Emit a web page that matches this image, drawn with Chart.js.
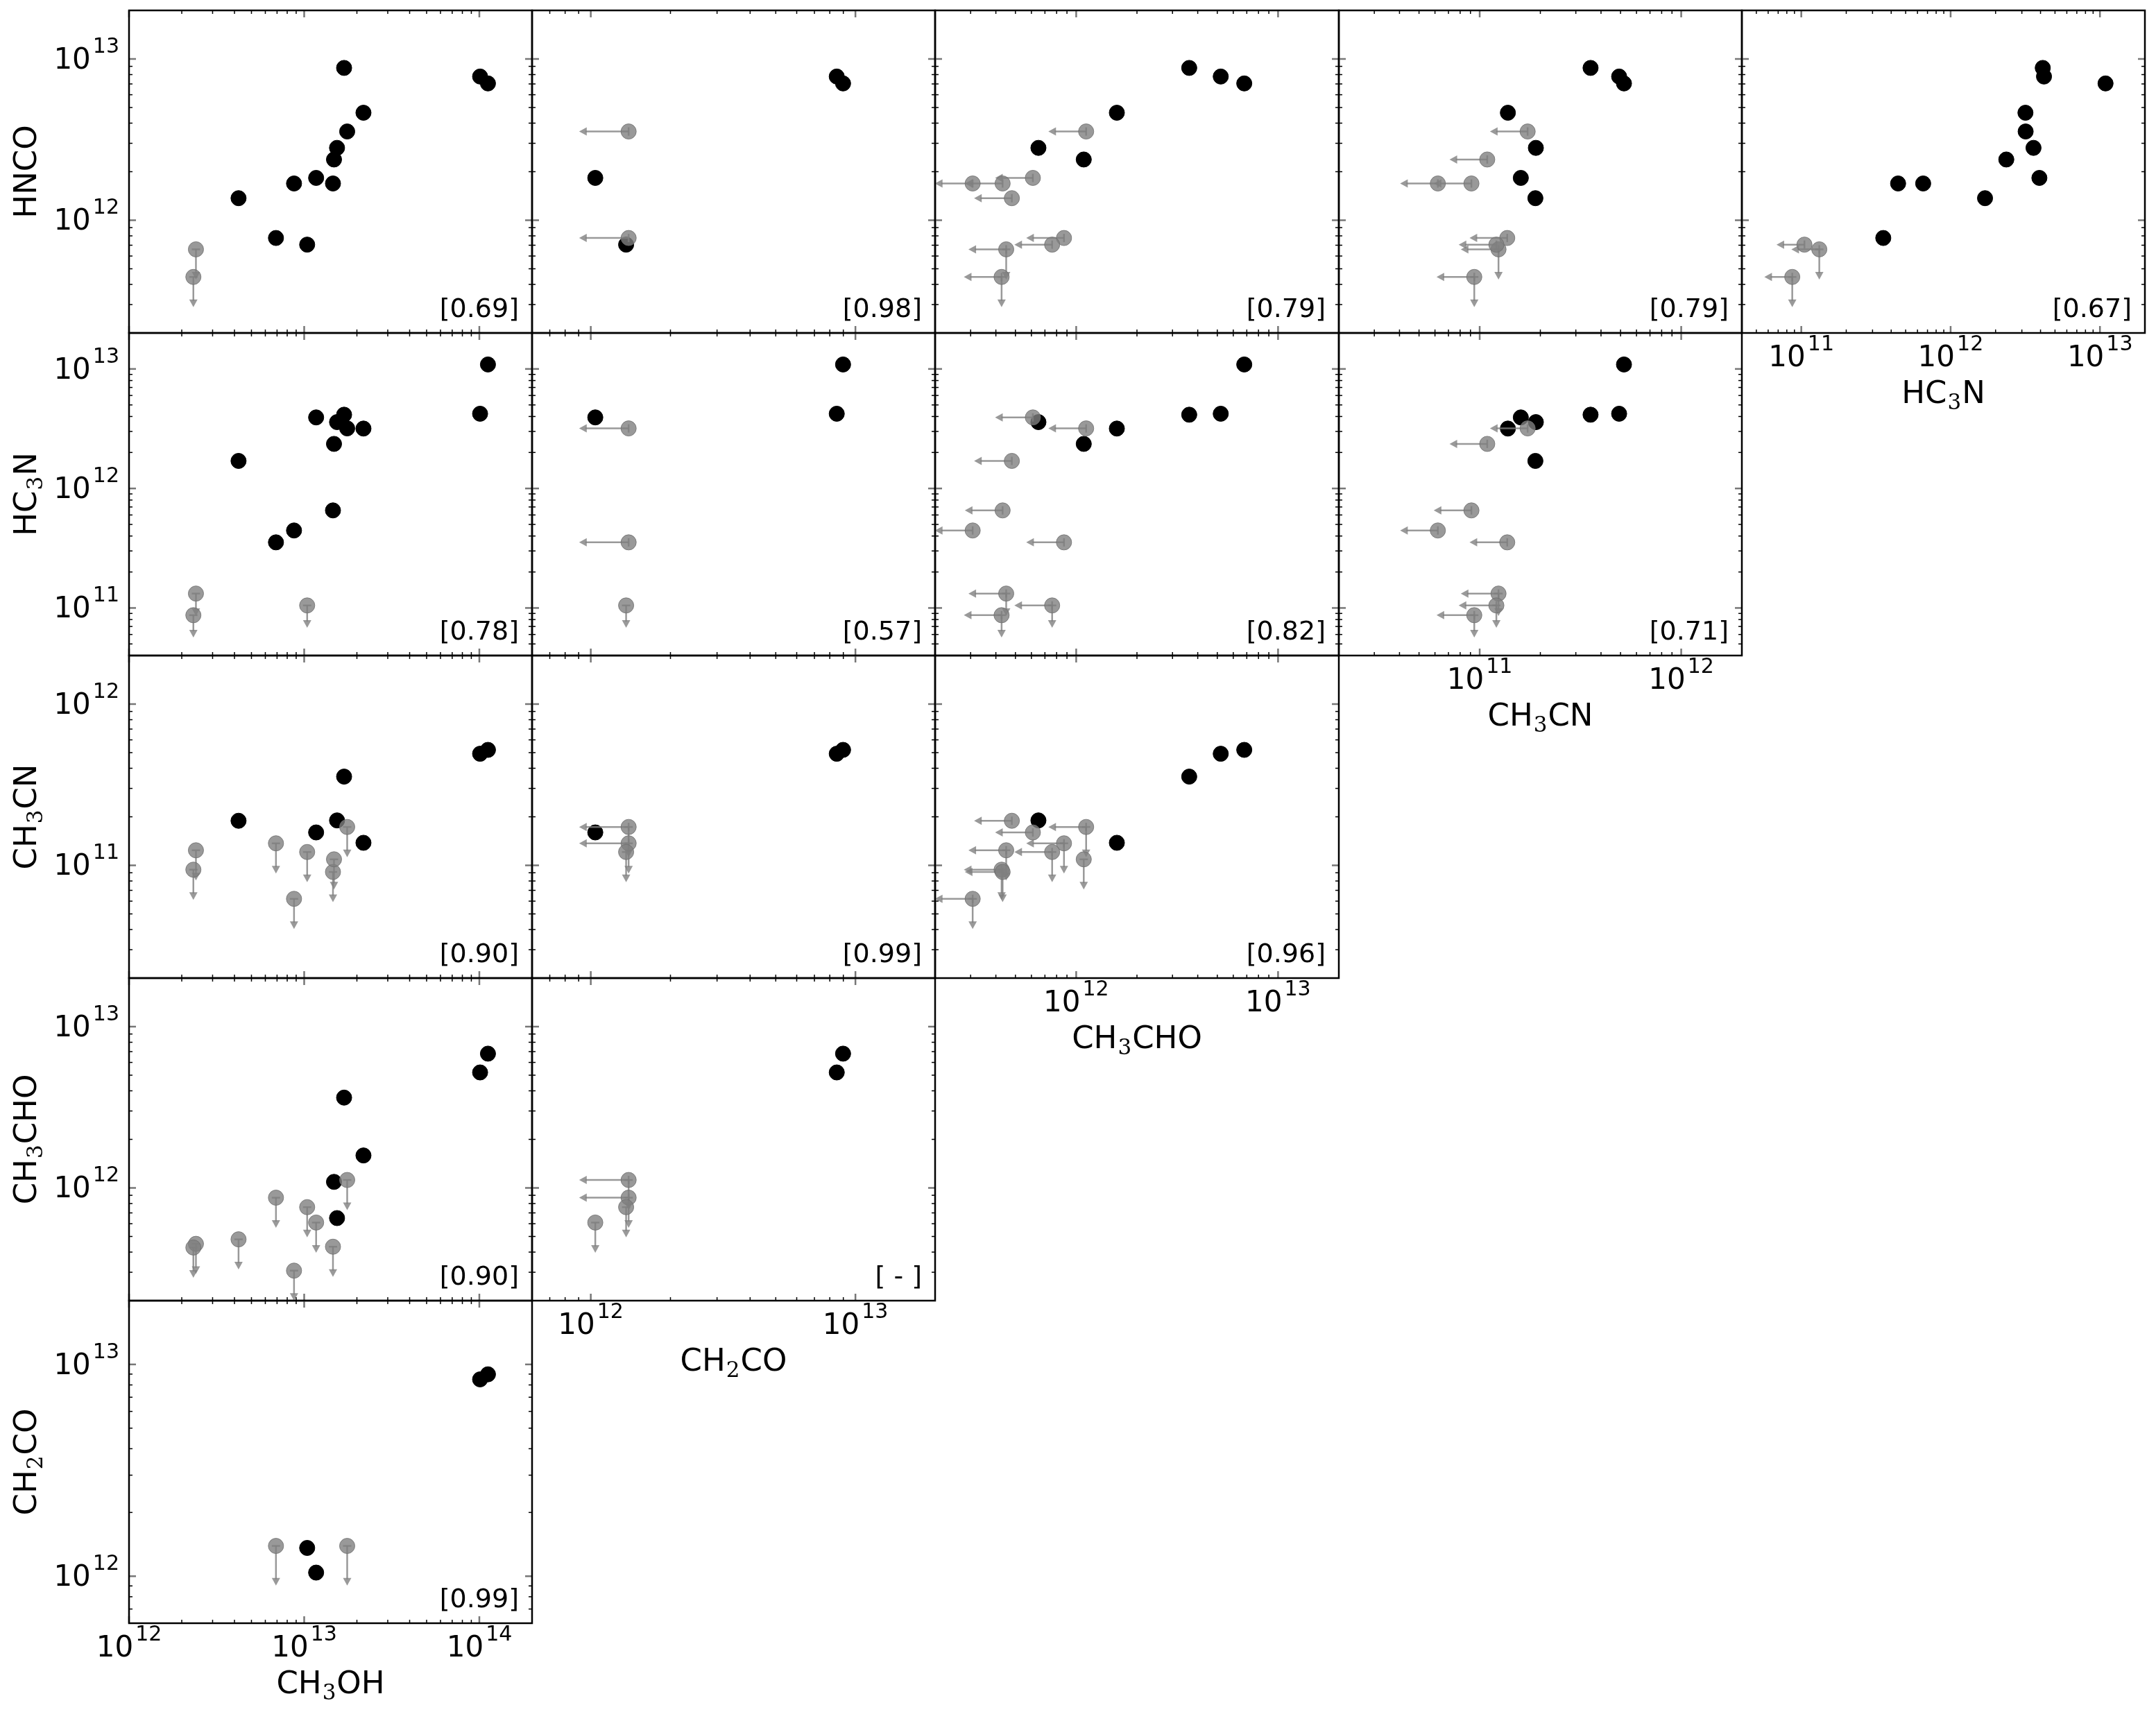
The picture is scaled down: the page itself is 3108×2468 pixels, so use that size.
<!DOCTYPE html>
<html>
<head>
<meta charset="utf-8">
<script src="https://cdn.jsdelivr.net/npm/chart.js@4.4.1/dist/chart.umd.min.js"></script>
<style>
  html, body { margin: 0; padding: 0; background: #fff; }
  #fig { position: relative; width: 3108px; height: 2468px; overflow: hidden; background: #fff; }
  #fig canvas { position: absolute; }
</style>
</head>
<body>
<div id="fig"></div>
<script>
// column densities per source (cm^-2), same source order in every array, null = not observed
const ch3oh  = [2.41e12, 2.33e12, 4.22e12, 6.9e12, 8.75e12, 1.04e13, 1.17e13, 1.46e13, 1.48e13, 1.54e13, 1.69e13, 1.76e13, 2.18e13, 1.01e14, 1.12e14];
const ch2co  = [null, null, null, 1.39e12, null, 1.36e12, 1.04e12, null, null, null, null, 1.39e12, null, 8.5e12, 8.98e12];
const ch3cho = [4.5e11, 4.27e11, 4.8e11, 8.7e11, 3.07e11, 7.6e11, 6.1e11, 4.32e11, 1.09e12, 6.5e11, 3.63e12, 1.12e12, 1.59e12, 5.2e12, 6.8e12];
const ch3cn  = [1.24e11, 9.4e10, 1.89e11, 1.37e11, 6.2e10, 1.21e11, 1.60e11, 9.1e10, 1.09e11, 1.90e11, 3.55e11, 1.73e11, 1.38e11, 4.92e11, 5.2e11];
const hc3n   = [1.32e11, 8.7e10, 1.70e12, 3.54e11, 4.45e11, 1.05e11, 3.93e12, 6.55e11, 2.36e12, 3.59e12, 4.14e12, 3.18e12, 3.17e12, 4.22e12, 1.09e13];
const hnco   = [6.6e11, 4.45e11, 1.37e12, 7.76e11, 1.69e12, 7.06e11, 1.83e12, 1.69e12, 2.38e12, 2.81e12, 8.8e12, 3.55e12, 4.64e12, 7.78e12, 7.05e12];

// 1 = upper limit
const ch3ohUL  = [0, 0, 0, 0, 0, 0, 0, 0, 0, 0, 0, 0, 0, 0, 0];
const ch2coUL  = [0, 0, 0, 1, 0, 0, 0, 0, 0, 0, 0, 1, 0, 0, 0];
const ch3choUL = [1, 1, 1, 1, 1, 1, 1, 1, 0, 0, 0, 1, 0, 0, 0];
const ch3cnUL  = [1, 1, 0, 1, 1, 1, 0, 1, 1, 0, 0, 1, 0, 0, 0];
const hc3nUL   = [1, 1, 0, 0, 0, 1, 0, 0, 0, 0, 0, 0, 0, 0, 0];
const hncoUL   = [1, 1, 0, 0, 0, 0, 0, 0, 0, 0, 0, 0, 0, 0, 0];

// axis limits and labelled decades
const ch3ohRange = [1e12, 2e14],  ch3ohTicks = [1e12, 1e13, 1e14];
const ch2coRange = [6e11, 2e13],  ch2coTicks = [1e12, 1e13];
const ch3choRange = [2e11, 2e13], ch3choTicks = [1e12, 1e13];
const ch3cnRange = [2e10, 2e12],  ch3cnTicks = [1e11, 1e12];
const hc3nRange = [4e10, 2e13],   hc3nTicks = [1e11, 1e12, 1e13];
const hncoRange = [2e11, 2e13],   hncoTicks = [1e12, 1e13];

const rowMols = ['HNCO', 'HC3N', 'CH3CN', 'CH3CHO', 'CH2CO'];
const colMols = ['CH3OH', 'CH2CO', 'CH3CHO', 'CH3CN', 'HC3N'];

// correlation coefficient shown in each panel
const rho = [
  ['0.69', '0.98', '0.79', '0.79', '0.67'],
  ['0.78', '0.57', '0.82', '0.71'],
  ['0.90', '0.99', '0.96'],
  ['0.90', ' - '],
  ['0.99']
];

const values = { CH3OH: ch3oh, CH2CO: ch2co, CH3CHO: ch3cho, CH3CN: ch3cn, HC3N: hc3n, HNCO: hnco };
const upper  = { CH3OH: ch3ohUL, CH2CO: ch2coUL, CH3CHO: ch3choUL, CH3CN: ch3cnUL, HC3N: hc3nUL, HNCO: hncoUL };
const ranges = { CH3OH: ch3ohRange, CH2CO: ch2coRange, CH3CHO: ch3choRange, CH3CN: ch3cnRange, HC3N: hc3nRange, HNCO: hncoRange };
const decades = { CH3OH: ch3ohTicks, CH2CO: ch2coTicks, CH3CHO: ch3choTicks, CH3CN: ch3cnTicks, HC3N: hc3nTicks, HNCO: hncoTicks };
const titles = { CH3OH: 'CH_3OH', CH2CO: 'CH_2CO', CH3CHO: 'CH_3CHO', CH3CN: 'CH_3CN', HC3N: 'HC_3N', HNCO: 'HNCO' };

// layout
const colEdges = [186, 767, 1348, 1930, 2511, 3092];
const rowEdges = [15, 480, 945, 1410, 1875, 2340];
const PAD = { left: 200, right: 30, top: 30, bottom: 130 };
const FONT = '"DejaVu Sans", sans-serif';
const GRAY = 'rgba(128,128,128,0.8)';
const ARROW = 0.65;

function minorTicks(range) {
  const out = [];
  const e0 = Math.floor(Math.log10(range[0])), e1 = Math.ceil(Math.log10(range[1]));
  for (let e = e0; e <= e1; e++) {
    for (let m = 1; m <= 9; m++) {
      const v = m * Math.pow(10, e);
      if (v >= range[0] * 0.999 && v <= range[1] * 1.001) out.push({ v, major: m === 1 });
    }
  }
  return out;
}

function drawPow(ctx, x, y, v, align) {
  const exp = String(Math.round(Math.log10(v)));
  ctx.font = '42px ' + FONT;
  const wb = ctx.measureText('10').width;
  ctx.font = '30px ' + FONT;
  const we = ctx.measureText(exp).width;
  const total = wb + 3 + we;
  const x0 = align === 'right' ? x - total : x - total / 2;
  ctx.textAlign = 'left';
  ctx.textBaseline = 'alphabetic';
  ctx.font = '42px ' + FONT;
  ctx.fillText('10', x0, y);
  ctx.font = '30px ' + FONT;
  ctx.fillText(exp, x0 + wb + 3, y - 23);
}

function drawMol(ctx, label, cx, y) {
  const bits = label.split('_');
  const segs = [{ t: bits[0], sub: false }];
  for (let i = 1; i < bits.length; i++) {
    segs.push({ t: bits[i][0], sub: true });
    segs.push({ t: bits[i].slice(1), sub: false });
  }
  const fontOf = s => s.sub ? '31px "DejaVu Serif", serif' : '45px ' + FONT;
  let total = 0;
  segs.forEach(s => { ctx.font = fontOf(s); s.w = ctx.measureText(s.t).width + (s.sub ? 2 : 0); total += s.w; });
  let x = cx - total / 2;
  ctx.textAlign = 'left';
  ctx.textBaseline = 'alphabetic';
  segs.forEach(s => {
    ctx.font = fontOf(s);
    ctx.fillText(s.t, x + (s.sub ? 1 : 0), s.sub ? y + 9 : y);
    x += s.w;
  });
}

function line(ctx, x1, y1, x2, y2) {
  ctx.beginPath(); ctx.moveTo(x1, y1); ctx.lineTo(x2, y2); ctx.stroke();
}

const decor = {
  id: 'decor',
  beforeDatasetDraw(chart, args) {
    if (args.index !== 0) return;
    const ctx = chart.ctx, a = chart.chartArea;
    const xs = chart.scales.x, ys = chart.scales.y;
    const pts = chart.data.datasets[0].data;
    ctx.save();
    ctx.beginPath(); ctx.rect(a.left, a.top, a.right - a.left, a.bottom - a.top); ctx.clip();
    ctx.strokeStyle = GRAY; ctx.fillStyle = GRAY; ctx.lineWidth = 2.5;
    chart.getDatasetMeta(0).data.forEach((el, i) => {
      const d = pts[i];
      if (d.xl) {
        const ex = xs.getPixelForValue(d.x * ARROW);
        line(ctx, el.x, el.y, ex + 9, el.y);
        line(ctx, el.x, el.y - 6, el.x, el.y + 6);
        ctx.beginPath(); ctx.moveTo(ex, el.y); ctx.lineTo(ex + 11, el.y - 6); ctx.lineTo(ex + 11, el.y + 6); ctx.closePath(); ctx.fill();
      }
      if (d.yl) {
        const ey = ys.getPixelForValue(d.y * ARROW);
        line(ctx, el.x, el.y, el.x, ey - 9);
        line(ctx, el.x - 6, el.y, el.x + 6, el.y);
        ctx.beginPath(); ctx.moveTo(el.x, ey); ctx.lineTo(el.x - 6, ey - 11); ctx.lineTo(el.x + 6, ey - 11); ctx.closePath(); ctx.fill();
      }
    });
    ctx.restore();
  },
  afterDraw(chart, args, o) {
    const ctx = chart.ctx, a = chart.chartArea;
    const xs = chart.scales.x, ys = chart.scales.y;
    ctx.save();
    // inward ticks on all four sides
    minorTicks(ranges[o.xm]).forEach(t => {
      const px = xs.getPixelForValue(t.v);
      const len = t.major ? 10 : 5;
      ctx.strokeStyle = t.major ? '#777' : '#000';
      ctx.lineWidth = t.major ? 2.5 : 1.5;
      line(ctx, px, a.bottom, px, a.bottom - len);
      line(ctx, px, a.top, px, a.top + len);
    });
    minorTicks(ranges[o.ym]).forEach(t => {
      const py = ys.getPixelForValue(t.v);
      const len = t.major ? 10 : 5;
      ctx.strokeStyle = t.major ? '#777' : '#000';
      ctx.lineWidth = t.major ? 2.5 : 1.5;
      line(ctx, a.left, py, a.left + len, py);
      line(ctx, a.right, py, a.right - len, py);
    });
    ctx.strokeStyle = '#000';
    ctx.lineWidth = 2.5;
    ctx.strokeRect(a.left, a.top, a.right - a.left, a.bottom - a.top);

    ctx.fillStyle = '#000';
    ctx.font = '38px ' + FONT;
    ctx.textAlign = 'right';
    ctx.textBaseline = 'alphabetic';
    ctx.fillText('[' + o.rho + ']', a.right - 19, a.bottom - 23);

    if (o.showY) {
      decades[o.ym].forEach(v => drawPow(ctx, a.left - 14, ys.getPixelForValue(v) + 14, v, 'right'));
      ctx.save();
      ctx.translate(a.left - 134, (a.top + a.bottom) / 2);
      ctx.rotate(-Math.PI / 2);
      drawMol(ctx, titles[o.ym], 0, 0);
      ctx.restore();
    }
    if (o.showX) {
      decades[o.xm].forEach(v => drawPow(ctx, xs.getPixelForValue(v), a.bottom + 48, v, 'center'));
      drawMol(ctx, titles[o.xm], (a.left + a.right) / 2, a.bottom + 101);
    }
    ctx.restore();
  }
};

const fig = document.getElementById('fig');

rowMols.forEach((ym, r) => {
  colMols.forEach((xm, c) => {
    if (c > 4 - r) return;
    const w = colEdges[c + 1] - colEdges[c];
    const h = rowEdges[r + 1] - rowEdges[r];
    const canvas = document.createElement('canvas');
    canvas.width = w + PAD.left + PAD.right;
    canvas.height = h + PAD.top + PAD.bottom;
    canvas.style.left = (colEdges[c] - PAD.left) + 'px';
    canvas.style.top = (rowEdges[r] - PAD.top) + 'px';
    fig.appendChild(canvas);

    const gray = [], black = [];
    for (let i = 0; i < ch3oh.length; i++) {
      const x = values[xm][i], y = values[ym][i];
      if (x == null || y == null) continue;
      const p = { x: x, y: y, xl: !!upper[xm][i], yl: !!upper[ym][i] };
      (p.xl || p.yl ? gray : black).push(p);
    }

    new Chart(canvas, {
      type: 'scatter',
      data: {
        datasets: [
          { data: gray, backgroundColor: GRAY, borderColor: 'rgba(110,110,110,0.8)', borderWidth: 1, pointRadius: 11, clip: 0 },
          { data: black, backgroundColor: '#000', borderColor: '#000', borderWidth: 1, pointRadius: 11, clip: 0 }
        ]
      },
      options: {
        responsive: false,
        animation: false,
        events: [],
        layout: { padding: PAD, autoPadding: false },
        plugins: {
          legend: { display: false },
          tooltip: { enabled: false },
          decor: { xm: xm, ym: ym, rho: rho[r][c], showX: r === 4 - c, showY: c === 0 }
        },
        scales: {
          x: { type: 'logarithmic', min: ranges[xm][0], max: ranges[xm][1], display: false },
          y: { type: 'logarithmic', min: ranges[ym][0], max: ranges[ym][1], display: false }
        }
      },
      plugins: [decor]
    });
  });
});
</script>
</body>
</html>
